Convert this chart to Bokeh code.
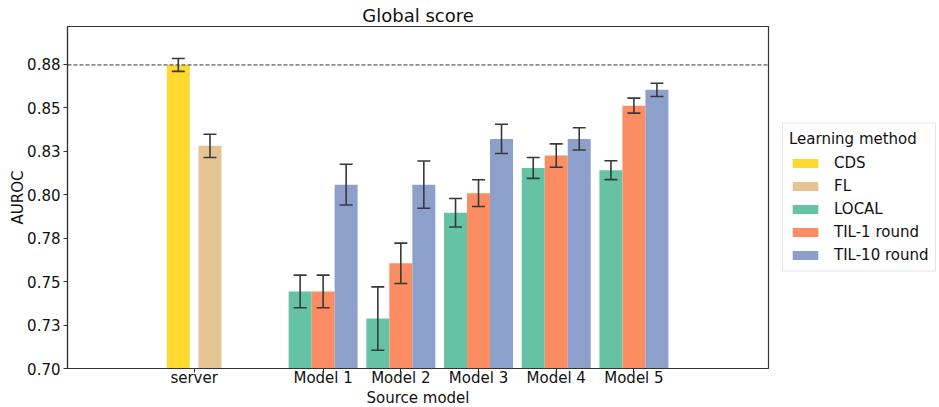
from bokeh.plotting import figure
from bokeh.models import (ColumnDataSource, Whisker, TeeHead, Span, Legend,
                          LegendItem, FixedTicker, Range1d)
from bokeh.embed import file_html
from bokeh.resources import INLINE

# ---- data -------------------------------------------------------------
groups = ["server", "Model 1", "Model 2", "Model 3", "Model 4", "Model 5"]
methods = ["CDS", "FL", "LOCAL", "TIL-1 round", "TIL-10 round"]

# server-side methods (only for "server")
cds_mean = [0.8745]
cds_err = [0.0037]
fl_mean = [0.8280]
fl_err = [0.0067]

# per source model (Model 1 .. Model 5)
local_mean = [0.7443, 0.7287, 0.7895, 0.8153, 0.8140]
local_err = [0.0094, 0.0182, 0.0082, 0.0060, 0.0054]
til1_mean = [0.7443, 0.7605, 0.8008, 0.8224, 0.8511]
til1_err = [0.0094, 0.0116, 0.0077, 0.0067, 0.0043]
til10_mean = [0.8057, 0.8057, 0.8320, 0.8320, 0.8602]
til10_err = [0.0117, 0.0136, 0.0084, 0.0064, 0.0038]

ytick_values = [0.700, 0.725, 0.750, 0.775, 0.800, 0.825, 0.850, 0.875]
ytick_labels = ["0.70", "0.73", "0.75", "0.78", "0.80", "0.83", "0.85", "0.88"]

colors = {
    "CDS": "#FFD92F",
    "FL": "#E5C494",
    "LOCAL": "#66C2A5",
    "TIL-1 round": "#FC8D62",
    "TIL-10 round": "#8DA0CB",
}

# ---- layout of the groups on the x axis --------------------------------
group_pos = [-0.66, 1, 2, 3, 4, 5]
bar_w = 0.296
server_offsets = {"CDS": -0.204, "FL": 0.204}
model_offsets = {"LOCAL": -bar_w, "TIL-1 round": 0.0, "TIL-10 round": bar_w}

FONT = "DejaVu Sans"
TXT = "#111111"
EDGE = "#333333"
ERR = "#383838"

p = figure(frame_width=701, frame_height=342, output_backend="svg",
           toolbar_location=None,
           x_range=Range1d(-2.290, 6.732), y_range=Range1d(0.70, 0.8966),
           min_border_left=67, min_border_right=171, min_border_top=26,
           min_border_bottom=39)

series = {
    "CDS": ([group_pos[0]], cds_mean, cds_err, server_offsets["CDS"]),
    "FL": ([group_pos[0]], fl_mean, fl_err, server_offsets["FL"]),
    "LOCAL": (group_pos[1:], local_mean, local_err, model_offsets["LOCAL"]),
    "TIL-1 round": (group_pos[1:], til1_mean, til1_err, model_offsets["TIL-1 round"]),
    "TIL-10 round": (group_pos[1:], til10_mean, til10_err, model_offsets["TIL-10 round"]),
}

items = []
for m in methods:
    pos, mean, err, off = series[m]
    src = ColumnDataSource(dict(
        x=[x + off for x in pos],
        top=mean,
        lower=[v - e for v, e in zip(mean, err)],
        upper=[v + e for v, e in zip(mean, err)],
    ))
    r = p.vbar(x="x", top="top", bottom=0, width=bar_w, source=src,
               fill_color=colors[m], line_color=None)
    items.append(LegendItem(label=m, renderers=[r]))
    p.add_layout(Whisker(
        base="x", lower="lower", upper="upper", source=src, level="overlay",
        line_color=ERR, line_width=1.6,
        upper_head=TeeHead(size=13, line_color=ERR, line_width=1.6),
        lower_head=TeeHead(size=13, line_color=ERR, line_width=1.6),
    ))

# reference line at the CDS score
p.add_layout(Span(location=cds_mean[0], dimension="width", line_color=EDGE,
                  line_width=1, line_dash="4 2", level="overlay"))

# ---- axes ---------------------------------------------------------------
p.xaxis.ticker = FixedTicker(ticks=group_pos)
p.xaxis.major_label_overrides = {x: g for x, g in zip(group_pos, groups)}
p.yaxis.ticker = FixedTicker(ticks=ytick_values)
p.yaxis.major_label_overrides = {v: l for v, l in zip(ytick_values, ytick_labels)}

p.xaxis.axis_label = "Source model"
p.yaxis.axis_label = "AUROC"
for ax in (p.xaxis, p.yaxis):
    ax.axis_line_color = EDGE
    ax.axis_line_width = 1.2
    ax.major_tick_line_color = EDGE
    ax.major_tick_out = 4
    ax.major_tick_in = 0
    ax.minor_tick_line_color = None
    ax.major_label_text_font = FONT
    ax.major_label_text_font_size = "15px"
    ax.major_label_text_color = TXT
    ax.axis_label_text_font = FONT
    ax.axis_label_text_font_size = "15px"
    ax.axis_label_text_font_style = "normal"
    ax.axis_label_text_color = TXT
p.xaxis.major_label_standoff = -4
p.xaxis.axis_label_standoff = -1
p.yaxis.major_label_standoff = 3
p.yaxis.axis_label_standoff = -3

p.xgrid.grid_line_color = None
p.ygrid.grid_line_color = None
p.outline_line_color = EDGE
p.outline_line_width = 1.2

# ---- title --------------------------------------------------------------
p.title.text = "Global score"
p.title.align = "center"
p.title.text_font = FONT
p.title.text_font_size = "18px"
p.title.text_font_style = "normal"
p.title.text_color = TXT
p.title.standoff = 2

# ---- legend -------------------------------------------------------------
legend = Legend(items=items, title="Learning method", location="center_left")
legend.margin = 14
legend.padding = 6
legend.title_text_font = FONT
legend.title_text_font_size = "15px"
legend.title_text_font_style = "normal"
legend.title_text_color = TXT
legend.label_text_font = FONT
legend.label_text_font_size = "15px"
legend.label_text_color = TXT
legend.glyph_width = 32
legend.glyph_height = 11
legend.label_standoff = 13
legend.label_height = 20
legend.spacing = 3
legend.border_line_color = "#cccccc"
legend.border_line_width = 1
p.add_layout(legend, "right")

open("out.html", "w").write(file_html(p, INLINE))
